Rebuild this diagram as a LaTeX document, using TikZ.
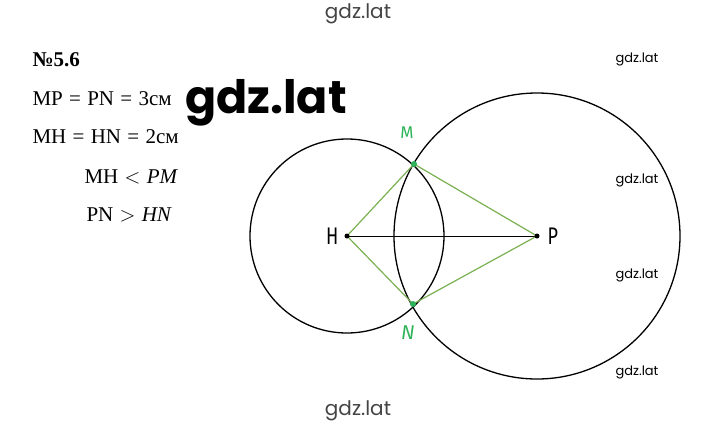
\documentclass[tikz,border=0pt]{standalone}
\usepackage{fontspec}
\setmainfont{Liberation Serif}
\newfontfamily\wmfont{Poppins}
\newfontfamily\handfont{Fira Sans}
\usepackage{tikz}
\usetikzlibrary{positioning}
\definecolor{gdz-green}{HTML}{2DB35A}
\definecolor{gdz-olive}{HTML}{7AB051}
\definecolor{gdz-gray}{HTML}{444444}
\newcommand{\wideop}[1]{\hspace{0.3em}#1\hspace{0.3em}}

\begin{document}
\begin{tikzpicture}[x=1pt, y=-1pt]

    \useasboundingbox (0,0) rectangle (720,429);

    % points
    \coordinate (H) at (347,236);
    \coordinate (P) at (537,236);
    \coordinate (M) at (414,164);
    \coordinate (N) at (413,304);

    % circles
    \draw[line width=1.3pt] (H) circle [radius=97pt];
    \draw[line width=1.3pt] (P) circle [radius=143pt];

    % segments
    \draw[line width=0.8pt] (H) -- (P);
    \draw[gdz-olive, line width=1.2pt] (H) -- (M) -- (P) -- (N) -- cycle;

    % dots
    \fill (H) circle [radius=2.5pt];
    \fill (P) circle [radius=2.5pt];
    \fill[gdz-green] (M) circle [radius=3pt];
    \fill[gdz-green] (N) circle [radius=3pt];

    % point labels
    \begin{scope}[every node/.style={font=\handfont\fontsize{24}{24}\selectfont}]
        \node[left=6pt of H, xscale=0.75, transform shape] (Hlabel) {H};
        \node[right=8pt of P, xscale=0.75, transform shape] (Plabel) {P};
        \node[color=gdz-green, font=\handfont\fontsize{17}{17}\selectfont] (Mlabel) at (407,133) {M};
        \node[color=gdz-green, font=\handfont\itshape\fontsize{20}{20}\selectfont] (Nlabel) at (408,333) {N};
    \end{scope}

    % given
    \begin{scope}[every node/.style={anchor=west, font=\fontsize{21}{21}\selectfont}]
        \node (task) at (29,60) {\bfseries №5.6};
        \node (given1) at (29,99) {MP\wideop{=}PN\wideop{=}3см};
        \node (given2) at (29,137) {MH\wideop{=}HN\wideop{=}2см};
        \node (res1) at (81,177) {MH\wideop{$<$}\textit{PM}};
        \node (res2) at (83,215) {PN\wideop{$>$}\textit{HN}};
    \end{scope}

    % watermarks
    \node[font=\wmfont\fontsize{20}{20}\selectfont, color=gdz-gray] (wmtop) at (358,14) {gdz.lat};
    \node[font=\wmfont\fontsize{20}{20}\selectfont, color=gdz-gray] (wmbottom) at (358,411) {gdz.lat};
    \node[font=\wmfont\bfseries\fontsize{46}{46}\selectfont] (wmbig) at (266,103) {gdz.lat};
    \foreach \y in {59,180,275,372}
        \node[font=\wmfont\fontsize{13}{13}\selectfont] at (637,\y) {gdz.lat};

\end{tikzpicture}
\end{document}
